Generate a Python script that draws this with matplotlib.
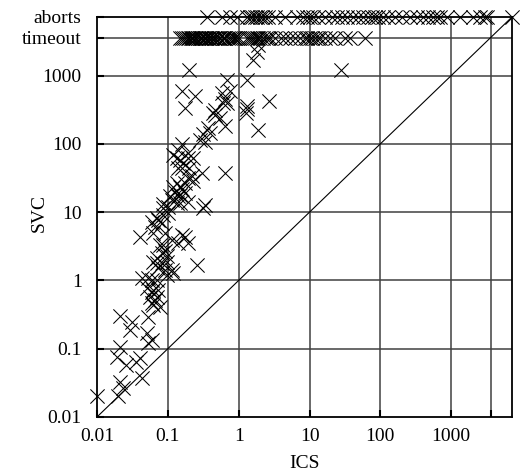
import numpy as np
import matplotlib.pyplot as plt

plt.rcParams['font.family'] = ['Liberation Serif', 'DejaVu Serif']

TIMEOUT = 3600
ABORTS = 7200

# runs solved by both solvers (seconds)
ics_solved = [0.01, 0.02, 0.023, 0.021, 0.043, 0.026, 0.036, 0.04, 0.019, 0.021,
              0.052, 0.06, 0.05, 0.029, 0.031, 0.021, 0.052, 0.077, 0.06, 0.062,
              0.066, 0.07, 0.056, 0.062, 0.073, 0.05, 0.06, 0.06, 0.07, 0.043,
              0.052, 0.097, 0.12, 0.115, 0.091, 0.073, 0.26, 0.083, 0.07, 0.062,
              0.097, 0.07, 0.097, 0.083, 0.091, 0.077, 0.085, 0.19, 0.14, 0.115,
              0.04, 0.175, 0.16, 0.062, 0.091, 0.066, 0.083, 0.06, 0.073, 0.07,
              0.085, 0.1, 0.085, 0.31, 0.1, 0.135, 0.15, 0.33, 0.085, 0.19,
              0.115, 0.14, 0.107, 0.15, 0.175, 0.125, 0.16, 0.12, 0.15, 0.135,
              0.175, 0.23, 0.19, 0.22, 0.3, 0.64, 0.14, 0.16, 0.2, 0.165,
              0.15, 0.12, 0.135, 0.19, 0.23, 0.19, 0.14, 0.16, 0.33, 0.28,
              0.31, 0.39, 0.37, 0.64, 1.85, 0.55, 0.46, 0.43, 1.25, 0.46,
              1.31, 0.175, 1.31, 0.6, 2.7, 0.68, 0.64, 0.24, 0.58, 0.16,
              0.75, 0.68, 1.31, 0.2, 28, 1.6, 1.83, 1.9]
svc_solved = [0.02, 0.02, 0.027, 0.032, 0.037, 0.058, 0.064, 0.073, 0.075, 0.105,
              0.12, 0.135, 0.17, 0.19, 0.245, 0.30, 0.29, 0.41, 0.46, 0.43,
              0.52, 0.57, 0.57, 0.72, 0.72, 0.77, 0.67, 1.0, 1.0, 1.07,
              1.1, 1.2, 1.3, 1.4, 1.4, 1.5, 1.67, 1.78, 1.8, 1.85,
              1.85, 2.1, 2.3, 2.5, 2.7, 3.3, 3.3, 3.5, 3.5, 3.9,
              4.3, 4.3, 4.6, 4.9, 4.9, 6.0, 6.9, 7.1, 7.6, 8.2,
              9.0, 9.6, 11.3, 11.6, 12, 13.5, 13.5, 12.5, 13, 14,
              15, 17, 17, 17.7, 19, 19.5, 22, 23, 23, 27,
              27, 29, 32, 34, 38, 38, 45, 45, 45, 52,
              58, 68, 61, 63, 63, 73, 80, 100, 105, 115,
              140, 145, 170, 180, 160, 235, 260, 280, 280, 310,
              320, 340, 360, 400, 430, 400, 460, 510, 550, 600,
              600, 850, 850, 1200, 1200, 1700, 2200, 2800]

# ICS times where SVC hit the time limit
ics_timeout = [0.15, 0.16, 0.17, 0.18, 0.19, 0.2, 0.21, 0.22, 0.23, 0.24,
               0.25, 0.27, 0.28, 0.29, 0.3, 0.32, 0.33, 0.35, 0.37, 0.38,
               0.4, 0.42, 0.45, 0.47, 0.5, 0.52, 0.55, 0.6, 0.63, 0.65,
               0.7, 0.75, 0.8, 0.85, 0.9, 0.95, 1.0, 1.3, 1.4, 1.5,
               1.6, 1.7, 1.8, 1.9, 2.0, 2.2, 2.4, 2.6, 2.8, 3.3,
               3.9, 4.5, 5.3, 6.2, 7.3, 8.6, 9.2, 10, 11, 12,
               13, 14, 16.5, 19.4, 22.9, 31.7, 37, 60]

# ICS times where SVC aborted
ics_aborts = [0.36, 0.58, 0.75, 0.95, 1.31, 1.45, 1.55, 1.7, 1.83, 2.0,
              2.14, 2.36, 2.6, 3.27, 4.5, 6.7, 8.1, 9.2, 10, 11.2,
              13.2, 16.5, 20.8, 24.4, 28.6, 33.7, 41, 48, 56.6, 66.5,
              75.8, 83.5, 92, 108, 127, 159, 200, 260, 327, 397,
              468, 550, 626, 690, 866, 1320, 2000, 2510, 2950, 3240, 7200]

fig = plt.figure(figsize=(5.28, 4.76), dpi=100)
ax = fig.add_axes([0.1837, 0.124, 0.786, 0.8403])
ax.set_xscale('log')
ax.set_yscale('log')
ax.set_xlim(0.01, ABORTS)
ax.set_ylim(0.01, ABORTS)

# grid at decades plus the timeout level
grid_vals = [0.1, 1, 10, 100, 1000, TIMEOUT]
for v in grid_vals:
    ax.axvline(v, color='#404040', lw=1.1, zorder=1)
    ax.axhline(v, color='#404040', lw=1.1, zorder=1)

ax.plot([0.01, ABORTS], [0.01, ABORTS], color='black', lw=0.8, zorder=2)

mk = dict(marker='x', s=105, color='black', linewidths=0.75, zorder=3, clip_on=False)
ax.scatter(ics_solved, svc_solved, **mk)
ax.scatter(ics_timeout, [TIMEOUT] * len(ics_timeout), **mk)
ax.scatter(ics_aborts, [ABORTS] * len(ics_aborts), **mk)

xticks = [0.01, 0.1, 1, 10, 100, 1000, TIMEOUT]
xlabels = ['0.01', '0.1', '1', '10', '100', '1000', '']
yticks = [0.01, 0.1, 1, 10, 100, 1000, TIMEOUT, ABORTS]
ylabels = ['0.01', '0.1', '1', '10', '100', '1000', 'timeout', 'aborts']
ax.set_xticks(xticks)
ax.set_xticklabels(xlabels)
ax.set_yticks(yticks)
ax.set_yticklabels(ylabels)
ax.minorticks_off()
ax.tick_params(direction='in', length=5, width=1.5, labelsize=14)
ax.tick_params(axis='x', pad=8)
ax.tick_params(axis='y', pad=11)

for s in ax.spines.values():
    s.set_linewidth(1.3)
    s.set_zorder(4)

ax.set_xlabel('ICS', fontsize=14)
ax.set_ylabel('SVC', fontsize=14)
ax.xaxis.set_label_coords(0.5, -0.095)
ax.yaxis.set_label_coords(-0.118, 0.51)

fig.savefig('out.png', dpi=100)
